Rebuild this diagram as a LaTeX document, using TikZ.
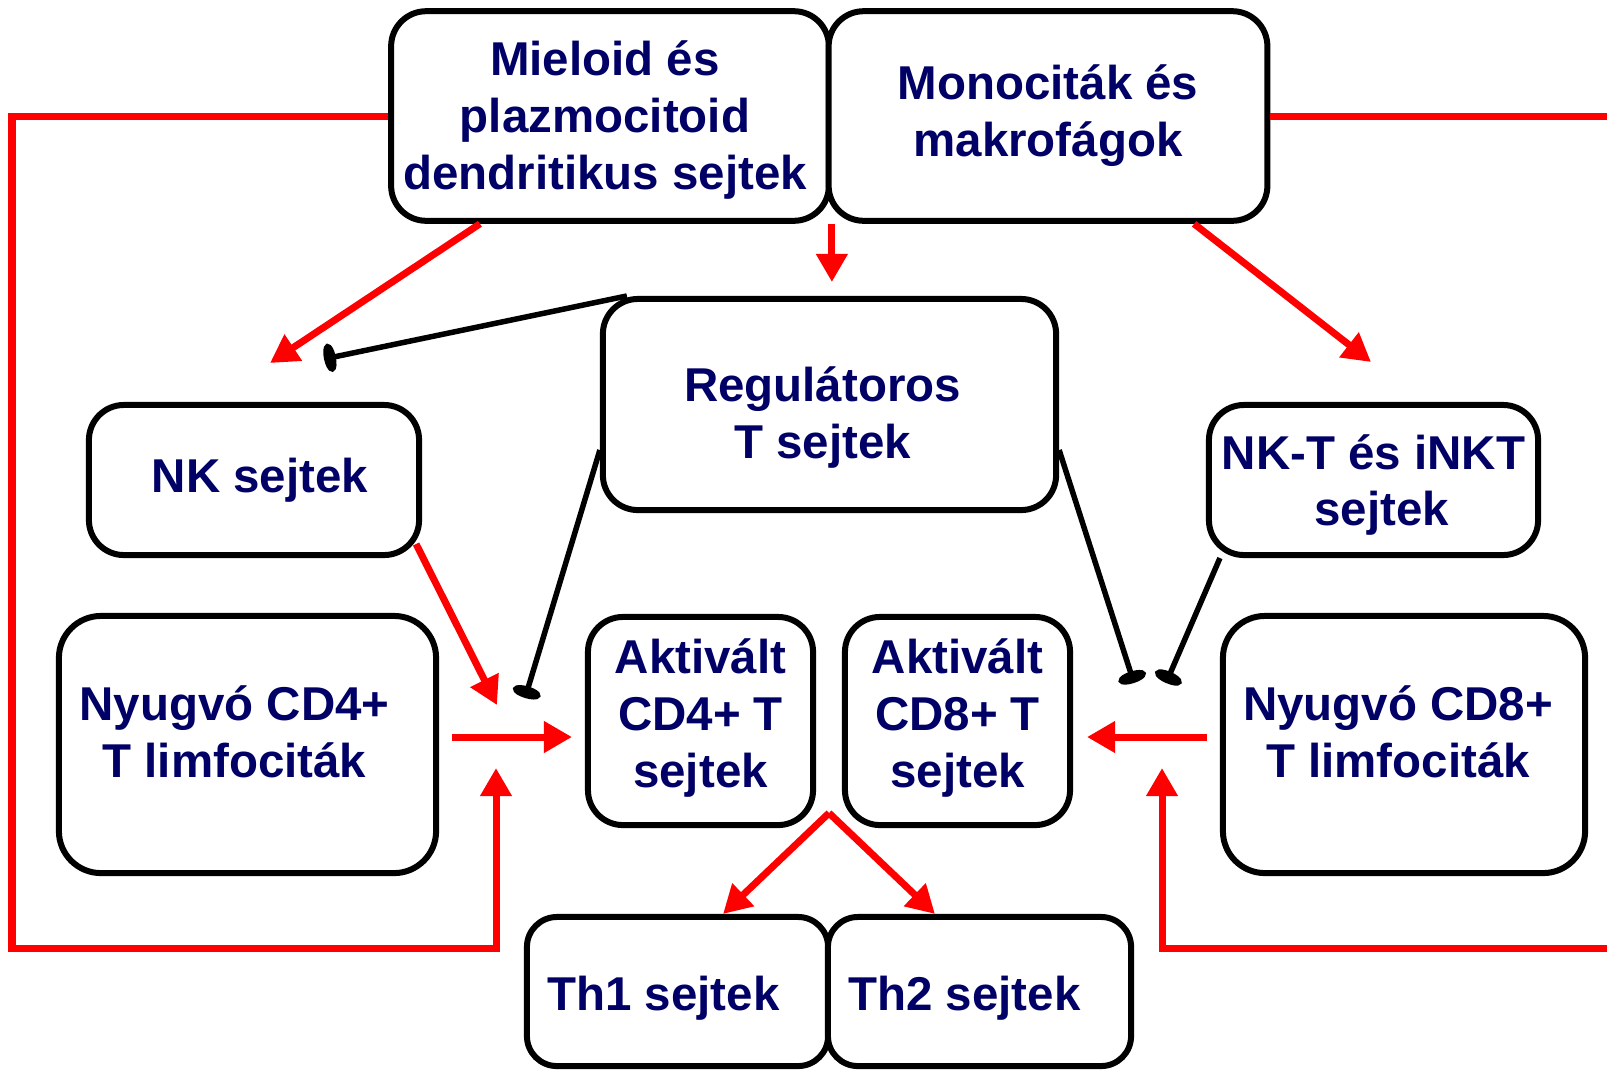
\documentclass[tikz,border=0pt]{standalone}
\usepackage{fontspec}
\setmainfont{Liberation Sans}
\usepackage{xcolor}
\usepackage{tikz}
\usetikzlibrary{arrows.meta, positioning}

\definecolor{cellnavy}{HTML}{000066}
\definecolor{actred}{HTML}{FF0000}

\begin{document}
\begin{tikzpicture}[x=0.01cm, y=-0.01cm,
    cellbox/.style={draw=black, line width=0.06cm, rounded corners=0.35cm, fill=white, inner sep=0pt},
    celltext/.style={align=center, text=cellnavy, inner sep=0pt,
        font=\fontsize{13.5}{16.2}\selectfont\bfseries},
    actarrow/.style={draw=actred, line width=0.07cm, -{Triangle[length=0.28cm, width=0.30cm]}},
    inhib/.style={draw=black, line width=0.055cm, -{Ellipse[length=0.12cm, width=0.28cm]}}]

    \useasboundingbox (0,0) rectangle (1607,1069);

    % Cell populations (box, then its text)
    \node[cellbox, minimum width=4.375cm, minimum height=2.095cm] (mdc) at (610,116) {};
    \node[celltext] (mdc-t) at ([shift={(-5,4)}]mdc) {Mieloid és\\plazmocitoid\\dendritikus sejtek};

    \node[cellbox, minimum width=4.385cm, minimum height=2.095cm] (mono) at (1048,116) {};
    \node[celltext] (mono-t) at (mono) {Monociták és\\makrofágok};

    \node[cellbox, minimum width=4.53cm, minimum height=2.11cm] (treg) at (829.5,404.5) {};
    \node[celltext] (treg-t) at ([shift={(-7,13)}]treg) {Regulátoros\\T sejtek};

    \node[cellbox, minimum width=3.30cm, minimum height=1.50cm] (nk) at (254,480) {};
    \node[celltext] (nk-t) at ([shift={(6,0)}]nk) {NK sejtek};

    \node[cellbox, minimum width=3.29cm, minimum height=1.50cm] (nkt) at (1373.5,480) {};
    \node[celltext] (nkt-t) at ([shift={(0,5)}]nkt) {NK-T és iNKT\\\hspace*{0.16cm}sejtek};

    \node[cellbox, rounded corners=0.42cm, minimum width=3.77cm, minimum height=2.57cm] (rest4) at (247.5,744.5) {};
    \node[celltext] (rest4-t) at ([shift={(-13,-13)}]rest4) {Nyugvó CD4+\\T limfociták};

    \node[cellbox, minimum width=2.25cm, minimum height=2.08cm] (act4) at (700.5,721) {};
    \node[celltext] (act4-t) at ([shift={(0,-3)}]act4) {Aktivált\\CD4+ T\\sejtek};

    \node[cellbox, minimum width=2.25cm, minimum height=2.08cm] (act8) at (957.5,721) {};
    \node[celltext] (act8-t) at ([shift={(0,-3)}]act8) {Aktivált\\CD8+ T\\sejtek};

    \node[cellbox, rounded corners=0.42cm, minimum width=3.62cm, minimum height=2.57cm] (rest8) at (1404,744.5) {};
    \node[celltext] (rest8-t) at ([shift={(-6,-13)}]rest8) {Nyugvó CD8+\\T limfociták};

    \node[cellbox, rounded corners=0.3cm, minimum width=3.01cm, minimum height=1.49cm] (th1) at (677.5,991.5) {};
    \node[celltext] (th1-t) at ([shift={(-14,7)}]th1) {Th1 sejtek};

    \node[cellbox, rounded corners=0.3cm, minimum width=3.03cm, minimum height=1.49cm] (th2) at (979.5,991.5) {};
    \node[celltext] (th2-t) at ([shift={(-15,7)}]th2) {Th2 sejtek};

    % Free ends
    \coordinate (nkin) at (270,363);
    \coordinate (nktin) at (1371,362);
    \coordinate (tregin) at (828.5,282);
    \coordinate (cd4up) at (496,768);
    \coordinate (cd8up) at (1162,768);
    \coordinate (cd4mid) at (497,705);
    \coordinate (cd4from) at (452,737);
    \coordinate (cd4to) at (572,737);
    \coordinate (cd8from) at (1207,737);
    \coordinate (cd8to) at (1087,737);
    \coordinate (thsplit) at (829,813);
    \coordinate (nkblock) at (324,359);
    \coordinate (cd4block) at (525,698);
    \coordinate (cd8blockA) at (1134,683);
    \coordinate (cd8blockB) at (1166,683);

    % Activating signals (red)
    \draw[actarrow] (mdc.west) -| (12,948) -| (cd4up);
    \draw[actarrow] (mono.east) -| (1625,948) -| (cd8up);
    \draw[actarrow] ([xshift=-1.3cm]mdc.south) -- (nkin);
    \draw[actarrow] (mdc.south east |- mdc.south) -- (mdc.south east |- tregin);
    \draw[actarrow] ([xshift=1.46cm]mono.south) -- (nktin);
    \draw[actarrow] ([shift={(-6,-14)}]nk.south east) -- (cd4mid);
    \draw[actarrow] (cd4from) -- (cd4to);
    \draw[actarrow] (cd8from) -- (cd8to);
    \draw[actarrow] (thsplit) -- ([xshift=0.455cm]th1.north);
    \draw[actarrow] (thsplit) -- ([xshift=-0.445cm]th2.north);

    % Suppression (black)
    \draw[inhib] ([xshift=0.27cm]treg.north west) -- (nkblock);
    \draw[inhib] ([yshift=-0.455cm]treg.west) -- (cd4block);
    \draw[inhib] ([yshift=-0.455cm]treg.east) -- (cd8blockA);
    \draw[inhib] ([xshift=0.14cm]nkt.south west) -- (cd8blockB);

\end{tikzpicture}
\end{document}
